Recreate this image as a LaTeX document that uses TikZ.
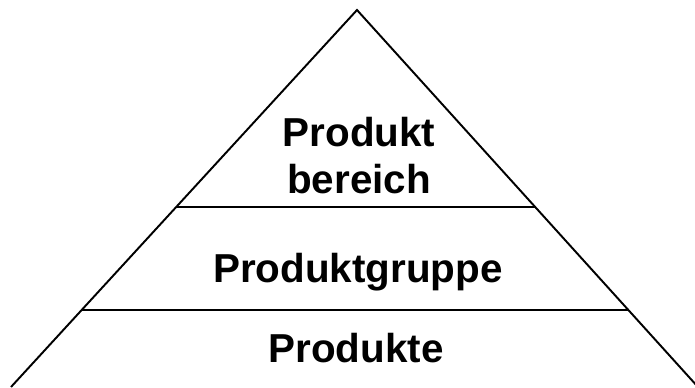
\documentclass[tikz,border=0pt]{standalone}
\usepackage{fontspec}
\setmainfont{Liberation Sans}
\usepackage{tikz}
\usetikzlibrary{calc,positioning}

\tikzset{
  level/.style={font=\bfseries\fontsize{23}{27}\selectfont, align=center, anchor=base, inner sep=0pt},
  edge/.style={line width=1.1pt, black}
}

\begin{document}
\begin{tikzpicture}[x=0.02cm,y=0.02cm]
\useasboundingbox (0,0) rectangle (695,387);
\coordinate (A) at (357,377);
\coordinate (B) at (11,0);
\coordinate (C) at (698,0);
% the two dividing lines
\coordinate (L1) at ($(A)!0.5225!(B)$);
\coordinate (R1) at ($(A)!0.5225!(C)$);
\coordinate (L2) at ($(A)!0.7958!(B)$);
\coordinate (R2) at ($(A)!0.7958!(C)$);
\draw[edge] (B) -- (A) -- (C);
\draw[edge] (L1) -- (R1);
\draw[edge] (L2) -- (R2);
\node[level] (top) at (359,241) {Produkt};
\node[level] (top2) at (359,194) {bereich};
\node[level] (mid) at (358,105) {Produktgruppe};
\node[level] (bottom) at (356,25) {Produkte};
\end{tikzpicture}
\end{document}
